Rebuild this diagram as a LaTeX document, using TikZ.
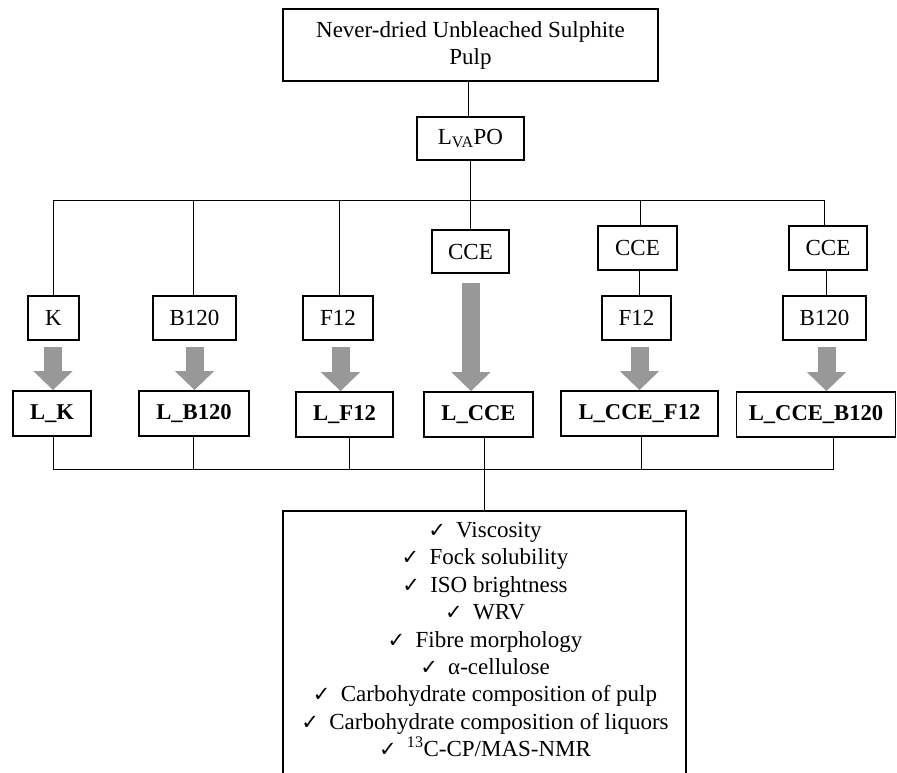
\documentclass[tikz,border=0pt]{standalone}
\usepackage{fontspec}
\setmainfont{Liberation Serif}
\newfontfamily\symf{DejaVu Sans}
\usetikzlibrary{arrows.meta}
\definecolor{arrgray}{RGB}{152,152,152}
\tikzset{
  box/.style={draw, line width=1.1pt, inner sep=0pt, font=\fontsize{23}{27}\selectfont, align=center},
  bbox/.style={draw, line width=1.8pt, inner sep=0pt, font=\fontsize{22.6}{26}\selectfont\bfseries, minimum height=45pt},
  conn/.style={line width=1pt},
  garrow/.style={draw=arrgray, line width=18pt, -{Triangle[width=38pt,length=19pt]}},
}
\newcommand{\ck}{{\symf\fontsize{21}{21}\selectfont ✓}\hspace{0.45em}}
\begin{document}
\begin{tikzpicture}[x=1pt,y=-1pt]
\useasboundingbox (0,0) rectangle (897,772);
\fill[white] (0,0) rectangle (897,772);
% top
\node[box, minimum width=375pt, minimum height=72pt] (top) at (470.5,45) {Never-dried Unbleached Sulphite\\Pulp};
\node[box, minimum width=107pt, minimum height=43pt] (lva) at (470.5,138.5) {L\textsubscript{VA}PO};
\coordinate (busT) at (470,200);
\coordinate (busTL) at (53,200);
\coordinate (busTR) at (824,200);
% second row
\node[box, minimum width=51pt, minimum height=44pt] (k) at (53.5,318) {K};
\node[box, minimum width=83pt, minimum height=44pt] (b) at (194.5,318) {B120};
\node[box, minimum width=70pt, minimum height=44pt] (f) at (338,318) {F12};
\node[box, minimum width=77pt, minimum height=43pt] (c1) at (470.5,251.5) {CCE};
\node[box, minimum width=79pt, minimum height=44pt] (c2) at (637.5,248) {CCE};
\node[box, minimum width=69pt, minimum height=44pt] (f2) at (636.5,318) {F12};
\node[box, minimum width=78pt, minimum height=44pt] (c3) at (828,248) {CCE};
\node[box, minimum width=83pt, minimum height=44pt] (b2) at (824.5,318) {B120};
% bold row
\node[bbox, minimum width=78pt] (lk) at (52,413.5) {L\_K};
\node[bbox, minimum width=110pt] (lb) at (194,413.5) {L\_B120};
\node[bbox, minimum width=97pt] (lf) at (344.5,414.5) {L\_F12};
\node[bbox, minimum width=109pt] (lc) at (478.5,414.5) {L\_CCE};
\node[bbox, minimum width=157pt] (lcf) at (639.5,413.5) {L\_CCE\_F12};
\node[bbox, minimum width=159pt] (lcb) at (816,414.5) {L\_CCE\_B120};
% connectors top
\draw[conn] (top.south -| 468,0) -- (lva.north -| 468,0);
\draw[conn] (lva.south -| 470,0) -- (busT);
\draw[conn] (busTL) -- (busTR);
\draw[conn] (busTL) -- (k.north -| busTL);
\draw[conn] (193,200) -- (b.north -| 193,0);
\draw[conn] (339,200) -- (f.north -| 339,0);
\draw[conn] (busT) -- (c1.north -| busT);
\draw[conn] (640,200) -- (c2.north -| 640,0);
\draw[conn] (c2.south -| 639,0) -- (f2.north -| 639,0);
\draw[conn] (busTR) -- (c3.north -| busTR);
\draw[conn] (c3.south -| 826,0) -- (b2.north -| 826,0);
% grey arrows
\draw[garrow, shorten <=6pt] (k.south -| 53,0) -- (lk.north -| 53,0);
\draw[garrow, shorten <=6pt] (b.south -| 194.5,0) -- (lb.north -| 194.5,0);
\draw[garrow, shorten <=6pt] (f.south -| 340.5,0) -- (lf.north -| 340.5,0);
\draw[garrow, shorten <=9pt] (c1.south -| 471,0) -- (lc.north -| 471,0);
\draw[garrow, shorten <=6pt] (f2.south -| 639.5,0) -- (lcf.north -| 639.5,0);
\draw[garrow, shorten <=6pt] (b2.south -| 826.5,0) -- (lcb.north -| 826.5,0);
% bottom bus
\coordinate (busB) at (484,469);
\draw[conn] (lk.south -| 53,0) -- (53,469) -- (833,469) -- (lcb.south -| 833,0);
\draw[conn] (lb.south -| 193,0) -- (193,469);
\draw[conn] (lf.south -| 349,0) -- (349,469);
\draw[conn] (lc.south -| 484,0) -- (busB);
\draw[conn] (lcf.south -| 641,0) -- (641,469);
% results box
\coordinate (resTop) at (484,511);
\draw[conn] (busB) -- (resTop);
\draw[line width=1.3pt] (283,780) -- (283,511) -- (686,511) -- (686,780);
\node[font=\fontsize{23}{27.4}\selectfont, align=center, anchor=north, inner sep=0pt] (res) at (485,522) {%
\ck Viscosity\\
\ck Fock solubility\\
\ck ISO brightness\\
\ck WRV\\
\ck Fibre morphology\\
\ck α-cellulose\\
\ck Carbohydrate composition of pulp\\
\ck Carbohydrate composition of liquors\\
\ck \textsuperscript{13}C-CP/MAS-NMR};
\end{tikzpicture}
\end{document}
